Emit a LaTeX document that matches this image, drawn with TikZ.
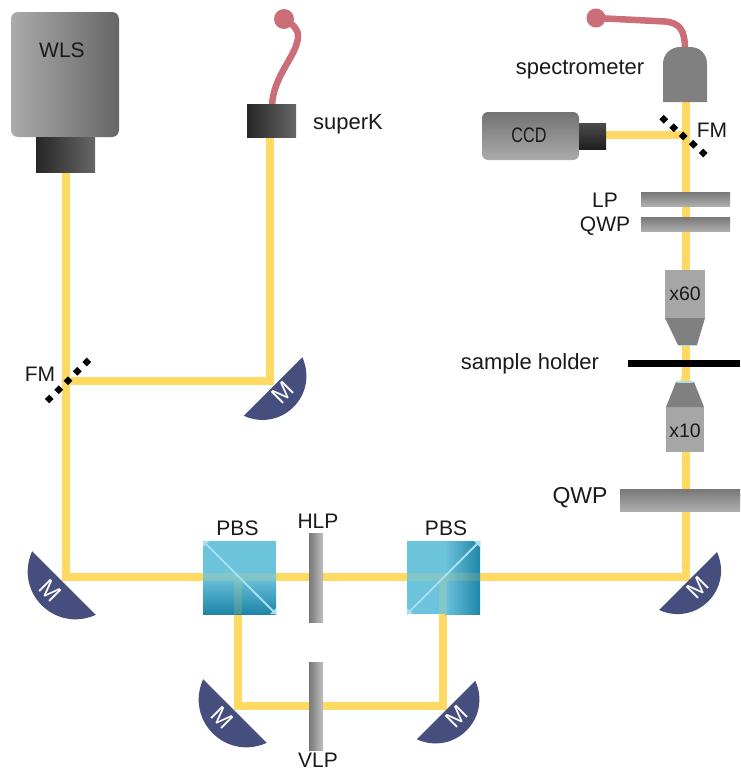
\documentclass[tikz,border=0pt]{standalone}
\usepackage{fontspec}
\setmainfont{Liberation Sans}
\definecolor{beamc}{HTML}{FFD961}
\definecolor{fiberc}{HTML}{CC6E78}
\definecolor{mirrorc}{HTML}{454E7C}
\definecolor{cubec}{HTML}{6CC3DC}
\definecolor{cubed}{HTML}{1F85A8}
\definecolor{lightc}{HTML}{A8E0F2}
\definecolor{txtc}{HTML}{1A1A1A}
\tikzset{
  x=1pt,y=-1pt,
  lab/.style={font=\fontsize{21}{24}\selectfont,text=txtc,inner sep=0pt},
  lablow/.style={font=\fontsize{22}{24}\selectfont,text=txtc,inner sep=0pt},
  labbig/.style={font=\fontsize{23}{26}\selectfont,text=txtc,inner sep=0pt},
  labobj/.style={font=\fontsize{19.5}{24}\selectfont,text=txtc,inner sep=0pt},
  box/.style={inner sep=0pt,outer sep=0pt,draw=none,minimum width=#1},
  beam/.style={draw=beamc,line width=8.4pt,line join=miter},
  tint/.style={draw=beamc,line width=8.4pt,draw opacity=.16},
  fiber/.style={draw=fiberc,line width=6.5pt,line cap=round},
  ball/.style={circle,fill=fiberc,inner sep=0pt,minimum size=20pt},
  hplate/.style={top color=black!53,bottom color=black!32},
  vplate/.style={left color=black!53,right color=black!25},
  body/.style={fill=black!35},
  cone/.style={fill=black!50},
  lens/.style={draw=lightc,line width=1.2pt},
  splitter/.style={draw=lightc,line width=2pt},
}
\newcommand{\mirrorshape}[6]{%
  \begin{scope}[shift={(#1,#2)},rotate=#3,scale=#4]
    \fill[mirrorc] (-45,0) .. controls (-29,42) and (29,42) .. (45,0) -- cycle;
  \end{scope}
  \node[font=\fontsize{24}{26}\selectfont,text=white,inner sep=0pt,rotate=#3] (#6) at (#5) {M};
}
\newcommand{\fmdot}[2]{\fill[black] (#1,#2-4.4) -- (#1+4.4,#2) -- (#1,#2+4.4) -- (#1-4.4,#2) -- cycle;}
\begin{document}
\begin{tikzpicture}
\useasboundingbox[fill=white] (0,0) rectangle (740,771);

% named beam points
\coordinate (a1) at (66,172);
\coordinate (a2) at (66,577);
\coordinate (a3) at (238,577);
\coordinate (b1) at (270,137);
\coordinate (b2) at (270,381);
\coordinate (b3) at (66,381);
\coordinate (c1) at (686,577);
\coordinate (c2) at (686,102);
\coordinate (d1) at (238,706);
\coordinate (d2) at (443,706);
\coordinate (d3) at (443,577);
\coordinate (e1) at (606,135);
\coordinate (e2) at (686,135);

% beams
\draw[beam] (a1) -- (a2) -- (c1) -- (c2);
\draw[beam] (b1) -- (b2) -- (b3);
\draw[beam] (a3) -- (d1) -- (d2) -- (d3);
\draw[beam] (e1) -- (e2);
\fill[beamc] (681,345) -- (690,345) -- (686,360) -- (685,360) -- cycle;
\fill[beamc] (685,367) -- (686,367) -- (691,382) -- (680,382) -- cycle;

% fibres
\node[ball] (ballk) at (284,19) {};
\node[ball,minimum size=19pt] (balls) at (596,18) {};
\coordinate (fk) at (272,106);
\coordinate (fs) at (685,50);
\draw[fiber] (fk) .. controls (273,75) and (298,55) .. (298,36) .. controls (298,28) and (292,24) .. (ballk.center);
\draw[fiber] (fs) .. controls (685,30) and (680,23) .. (665,21.5) -- (balls.center);

% sources
\node[box=108pt,minimum height=125pt,rounded corners=7pt,left color=black!33,right color=black!60] (wls) at (65,74.5) {};
\node[lab] at (62,50) {WLS};
\node[box=59pt,minimum height=35pt,left color=black!85,right color=black!60] (wlsb) at (65.5,154.5) {};
\node[box=49pt,minimum height=33pt,left color=black!85,right color=black!60] (sk) at (271.5,120.5) {};
\node[lablow] at (348,124) {superK};

% spectrometer
\fill[black!50] (663,102) -- (663,64) .. controls (663,53) and (672,47) .. (680,47) -- (690,47) .. controls (700,47) and (707,54) .. (707,64) -- (707,102) -- cycle;
\node[lablow] at (580,70) {spectrometer};

% CCD
\node[box=97pt,minimum height=48pt,rounded corners=6pt,top color=black!55,bottom color=black!33] (ccd) at (530.5,136) {};
\node[lab] at (529,135) {\scalebox{.77}[1]{CCD}};
\node[box=27pt,minimum height=26pt,top color=black!70,bottom color=black!88] (ccdb) at (592.5,136) {};

% flip mirrors
\foreach \x/\y in {663.7/119.3,673.7/127.7,683.3/136,693.3/144.3,703.3/153,49.3/399,58.7/389.7,68/380.7,77.3/371.3,86.7/362} {\fmdot{\x}{\y}}
\node[lab] at (712,130) {FM};
\node[lab] at (40,374) {FM};

% plates
\node[box=89pt,minimum height=14pt,hplate] (lp) at (685.5,199) {};
\node[box=89pt,minimum height=14pt,hplate] (qw1) at (685.5,224) {};
\node[box=120pt,minimum height=22pt,hplate] (qw2) at (680,500) {};
\node[lab] at (605,200) {LP};
\node[lab] at (605,226) {QWP};
\node[labbig] at (580,498) {QWP};

% objectives
\node[box=40pt,minimum height=48pt,body] (x60) at (685,294) {};
\node[labobj] at (685,294) {x60};
\fill[cone] (665,318) -- (705,318) -- (697,345) -- (678,345) -- cycle;
\draw[lens] (678,345.5) -- (697,345.5);
\node[box=38pt,minimum height=45pt,body] (x10) at (685,429.5) {};
\node[labobj] at (685,431) {x10};
\fill[cone] (676,382) -- (694,382) -- (704,407) -- (666,407) -- cycle;
\draw[lens] (677,382) -- (693,382);
\node[box=112pt,minimum height=7pt,fill=black] (holder) at (684,363.5) {};
\node[lablow] at (530,364) {sample holder};

% polarizing beam splitters
\node[box=73pt,minimum height=73pt,fill=cubec] (pbs1) at (239.5,577.5) {};
\fill[top color=cubec,bottom color=cubed] (203,577) rectangle (276,614);
\draw[tint] (203,577) -- (276,577);
\draw[tint] (238,581) -- (238,614);
\draw[splitter] (pbs1.north west) -- (pbs1.south east);
\fill[lightc] (pbs1.north west) -- ++(6,0) -- ++(-6,6) -- cycle;
\fill[lightc] (pbs1.south east) -- ++(-6,0) -- ++(6,-6) -- cycle;
\node[lab] at (237.5,528) {PBS};

\node[box=73pt,minimum height=73pt,fill=cubec] (pbs2) at (443.5,577.5) {};
\fill[left color=cubec,right color=cubed] (445,541) rectangle (480,614);
\draw[tint] (407,577) -- (480,577);
\draw[tint] (443,581) -- (443,614);
\draw[splitter] (pbs2.south west) -- (pbs2.north east);
\fill[lightc] (pbs2.north east) -- ++(-6,0) -- ++(6,6) -- cycle;
\fill[lightc] (pbs2.south west) -- ++(6,0) -- ++(-6,-6) -- cycle;
\node[lab] at (446,528) {PBS};

% linear polarizers
\node[box=14pt,minimum height=89pt,vplate] (hlp) at (316,577.5) {};
\node[box=14pt,minimum height=88pt,vplate] (vlp) at (316,706) {};
\node[lab] at (318,521) {HLP};
\node[lab] at (318,760) {VLP};

% mirrors
\mirrorshape{64}{583}{-45}{1}{50,591}{m1}
\mirrorshape{273}{386.5}{45}{.92}{283,393}{m2}
\mirrorshape{688}{581}{45}{.91}{698,588}{m3}
\mirrorshape{235}{711}{-45}{1}{222,718}{m4}
\mirrorshape{446}{710}{45}{.92}{457,717}{m5}
\end{tikzpicture}
\end{document}
